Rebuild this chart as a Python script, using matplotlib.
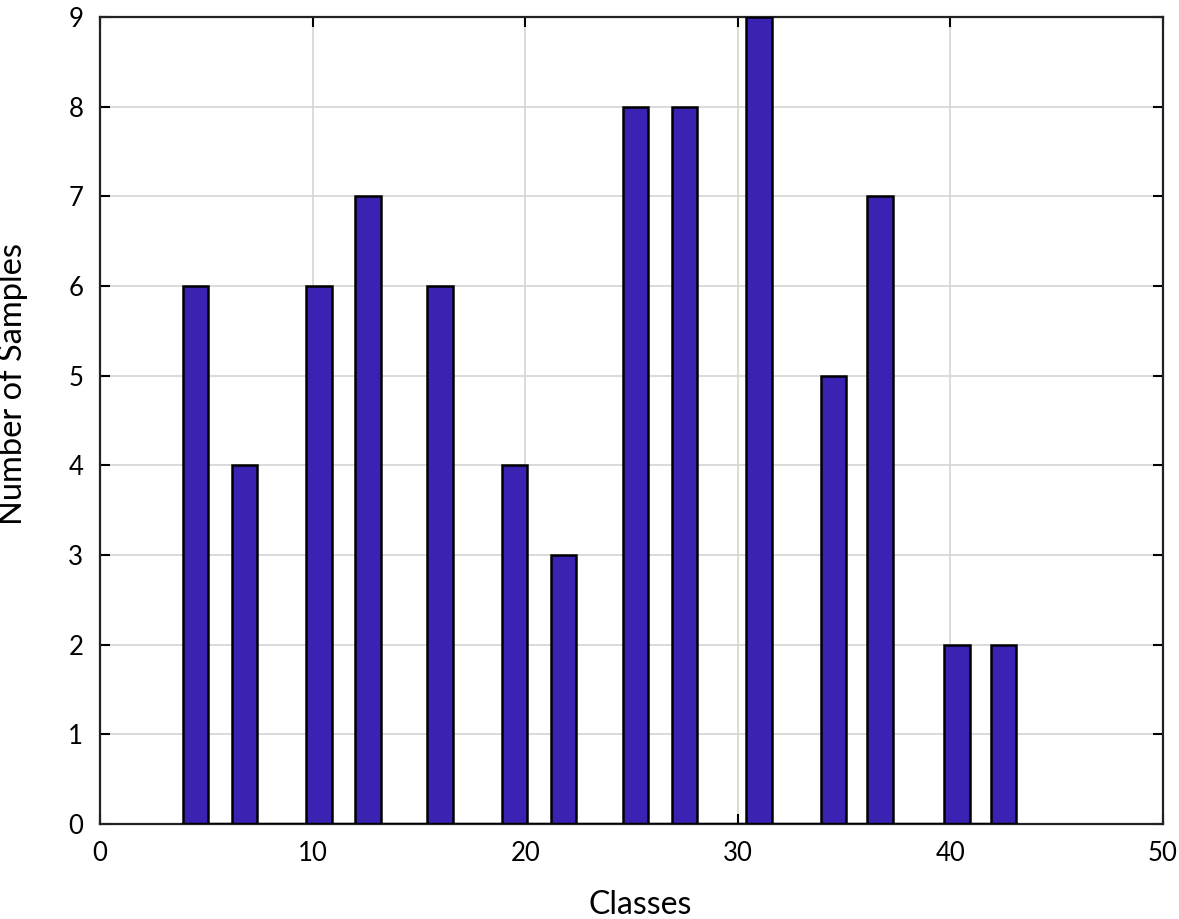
import matplotlib
matplotlib.use('Agg')
import matplotlib.pyplot as plt

# class positions and sample counts
classes = [4.5, 6.8, 10.3, 12.6, 16.0, 19.5, 21.8, 25.2, 27.5, 31.0, 34.5, 36.7, 40.3, 42.5]
samples = [6, 4, 6, 7, 6, 4, 3, 8, 8, 9, 5, 7, 2, 2]
x_ticks = [0, 10, 20, 30, 40, 50]
y_ticks = [0, 1, 2, 3, 4, 5, 6, 7, 8, 9]

plt.rcParams['font.family'] = ['Lato', 'DejaVu Sans']

fig = plt.figure(figsize=(11.79, 9.19), dpi=100)
ax = fig.add_axes([0.0848, 0.1034, 0.9016, 0.8781])

ax.bar(classes, samples, width=1.2, color='#3b22b2', edgecolor='black',
       linewidth=1.8, zorder=3)
ax.axhline(0, xmin=(classes[0] - 0.6) / 50, xmax=(classes[-1] + 0.6) / 50,
           color='black', linewidth=2.5, zorder=4)

ax.set_xlim(0, 50)
ax.set_ylim(0, 9)
ax.set_xticks(x_ticks)
ax.set_yticks(y_ticks)
ax.grid(True, color='#d4d4d4', linewidth=1.2, zorder=0)
ax.tick_params(direction='in', length=7, width=1.5, top=True, right=True,
               labelsize=18.5, pad=12)
for s in ax.spines.values():
    s.set_linewidth(1.6)
    s.set_color('#222222')

ax.set_xlabel('Classes', fontsize=23)
ax.set_ylabel('Number of Samples', fontsize=23.5)
ax.xaxis.set_label_coords(0.508, -0.082)
ax.yaxis.set_label_coords(-0.068, 0.545)

fig.savefig('out.png', dpi=100)
